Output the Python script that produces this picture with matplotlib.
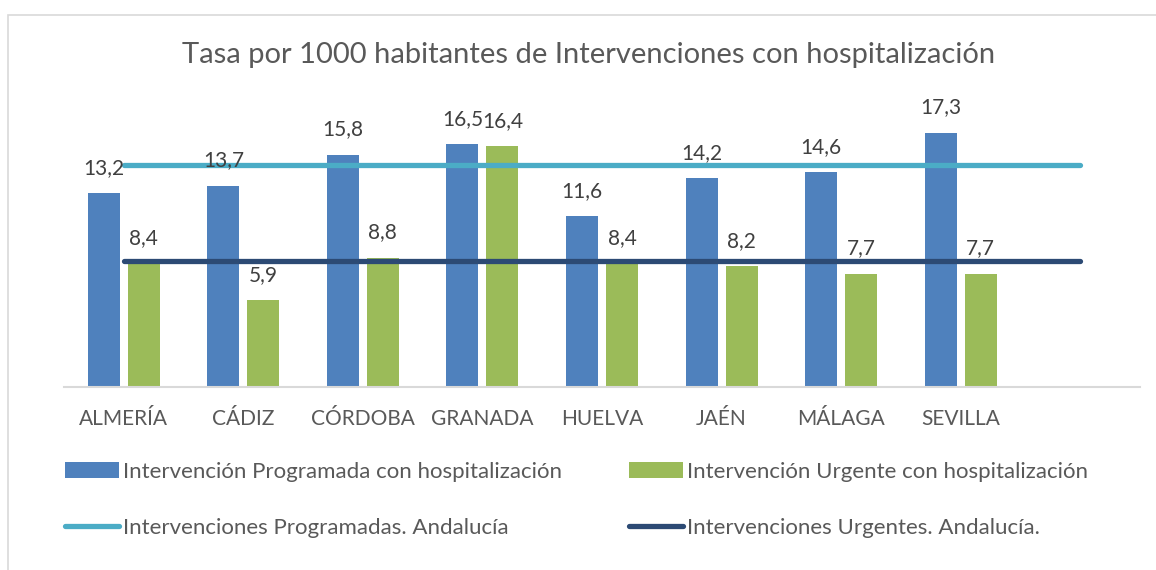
import numpy as np
import matplotlib.pyplot as plt
from matplotlib.patches import Rectangle

# datos
provincias = ["ALMERÍA", "CÁDIZ", "CÓRDOBA", "GRANADA", "HUELVA", "JAÉN", "MÁLAGA", "SEVILLA", ""]
programada = [13.2, 13.7, 15.8, 16.5, 11.6, 14.2, 14.6, 17.3]
urgente = [8.4, 5.9, 8.8, 16.4, 8.4, 8.2, 7.7, 7.7]
andalucia_prog = [15.1] * 9
andalucia_urg = [8.6] * 9

c_prog = "#4F81BD"
c_urg = "#9BBB59"
c_line_prog = "#4BACC6"
c_line_urg = "#2C4A74"
txt = "#595959"

plt.rcParams["font.family"] = ["Lato", "DejaVu Sans"]

fig = plt.figure(figsize=(11.56, 5.7), dpi=100)
ax = fig.add_axes([64 / 1156, 1 - 387 / 570, (1140 - 64) / 1156, (387 - 93) / 570])

x = np.arange(len(provincias))
xb = x[:len(programada)]
w = 0.268
off = 0.167
b1 = ax.bar(xb - off, programada, w, color=c_prog, label="Intervención Programada con hospitalización")
b2 = ax.bar(xb + off, urgente, w, color=c_urg, label="Intervención Urgente con hospitalización")
ax.plot(x, andalucia_prog, color=c_line_prog, lw=3.8, solid_capstyle="round",
        label="Intervenciones Programadas. Andalucía")
ax.plot(x, andalucia_urg, color=c_line_urg, lw=3.8, solid_capstyle="round",
        label="Intervenciones Urgentes. Andalucía.")

for bars, vals in ((b1, programada), (b2, urgente)):
    for r, v in zip(bars, vals):
        ax.annotate(f"{v:.1f}".replace(".", ","), (r.get_x() + r.get_width() / 2, v),
                    xytext=(0, 11), textcoords="offset points", ha="center", va="bottom",
                    fontsize=15, color="#404040")

ax.set_xlim(-0.5, 8.5)
ax.set_ylim(0, 20)
ax.set_yticks([])
ax.set_xticks(x)
ax.set_xticklabels(provincias, fontsize=15, color=txt)
ax.tick_params(axis="x", length=0, pad=16)
for s in ("top", "left", "right"):
    ax.spines[s].set_visible(False)
ax.spines["bottom"].set_color("#D9D9D9")
ax.spines["bottom"].set_linewidth(1.5)

fig.text(0.509, 1 - 55 / 570, "Tasa por 1000 habitantes de Intervenciones con hospitalización",
         ha="center", va="center", fontsize=21, color=txt)

h, l = ax.get_legend_handles_labels()
# orden por filas: barras arriba, líneas abajo
order = [2, 0, 3, 1]
leg = fig.legend([h[i] for i in order], [l[i] for i in order], ncol=2,
                 loc="upper left", bbox_to_anchor=(65 / 1156, 1 - 462 / 570),
                 frameon=False, fontsize=16, labelcolor=txt, handlelength=2.43,
                 handleheight=0.7, handletextpad=0.18, labelspacing=1.6, columnspacing=3.0,
                 borderaxespad=0, borderpad=0)

# marco del gráfico
fig.patches.append(Rectangle((8 / 1156, -0.1), 1.2, 1 - 15 / 570 + 0.1, transform=fig.transFigure,
                             fill=False, edgecolor="#D9D9D9", lw=1.2))

fig.savefig("out.png", dpi=100)
